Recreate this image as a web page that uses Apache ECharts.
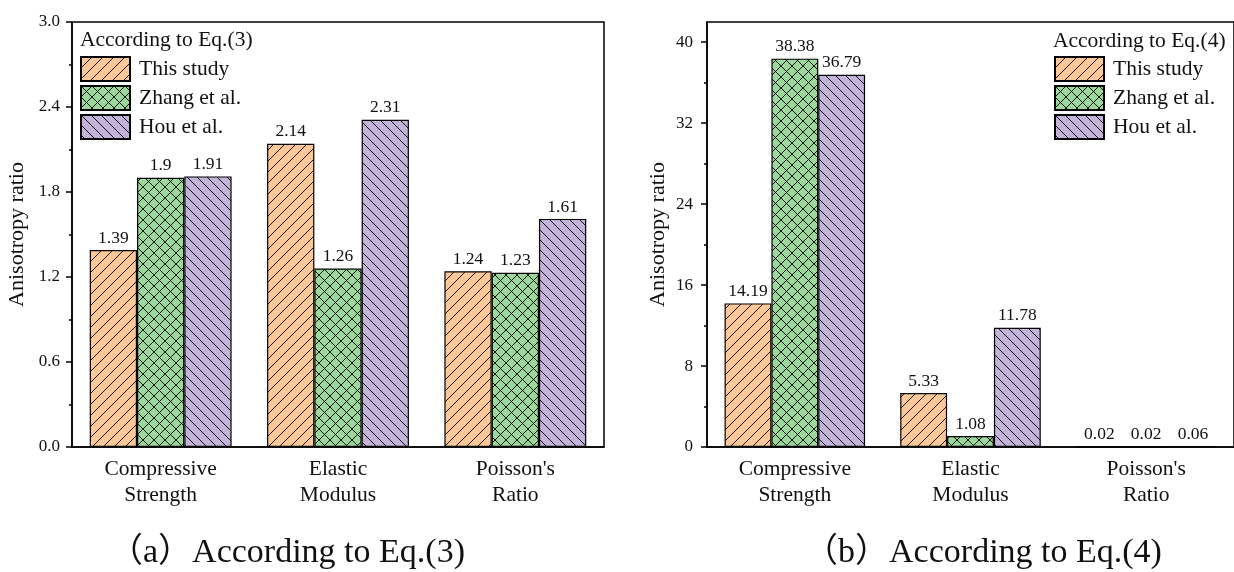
<!DOCTYPE html>
<html><head><meta charset="utf-8">
<script src="https://cdn.jsdelivr.net/npm/echarts@6/dist/echarts.min.js"></script>
<style>html,body{margin:0;padding:0;background:#fff}#c{width:1234px;height:572px}</style>
</head><body><div id="c"></div>
<script>
const categories = ['Compressive\nStrength', 'Elastic\nModulus', "Poisson's\nRatio"];
const seriesNames = ['This study', 'Zhang et al.', 'Hou et al.'];
const eq3ThisStudy = [1.39, 2.14, 1.24];
const eq3Zhang = [1.9, 1.26, 1.23];
const eq3Hou = [1.91, 2.31, 1.61];
const eq4ThisStudy = [14.19, 5.33, 0.02];
const eq4Zhang = [38.38, 1.08, 0.02];
const eq4Hou = [36.79, 11.78, 0.06];
const leftMajorTicks = [0, 0.6, 1.2, 1.8, 2.4, 3.0];
const leftMinorTicks = [0.3, 0.9, 1.5, 2.1, 2.7];
const rightMajorTicks = [0, 8, 16, 24, 32, 40];
const rightMinorTicks = [4, 12, 20, 28, 36];
const legendTitles = ['According to Eq.(3)', 'According to Eq.(4)'];
const subtitles = ['（a）According to Eq.(3)', '（b）According to Eq.(4)'];
const yName = 'Anisotropy ratio';

const FONT = "'Liberation Serif', 'Times New Roman', serif";
const FONT_CJK = "'Liberation Serif', 'Noto Sans CJK SC', serif";

function hatch(bg, type, s) {
  const c = document.createElement('canvas');
  c.width = s; c.height = s;
  const g = c.getContext('2d');
  g.fillStyle = bg; g.fillRect(0, 0, s, s);
  g.strokeStyle = '#000'; g.lineWidth = 0.9;
  g.beginPath();
  if (type === 'f' || type === 'x') {
    g.moveTo(-2, s + 2); g.lineTo(s + 2, -2);
  }
  if (type === 'b' || type === 'x') {
    g.moveTo(-2, -2); g.lineTo(s + 2, s + 2);
  }
  g.stroke();
  return { image: c, repeat: 'repeat' };
}
const fills = [
  hatch('#FDC897', 'f', 11),
  hatch('#9CD79C', 'x', 11),
  hatch('#C4B3D9', 'b', 10)
];

const chart = echarts.init(document.getElementById('c'), null, { renderer: 'canvas' });

function xAxes(gi) {
  return [
    {
      type: 'category', gridIndex: gi, data: categories, position: 'bottom',
      axisLine: { lineStyle: { color: '#000', width: 1.5 } },
      axisTick: { alignWithLabel: true, length: 6, lineStyle: { color: '#000', width: 1.5 } },
      axisLabel: { color: '#111', fontFamily: FONT, fontSize: 21.5, lineHeight: 26, margin: 9, interval: 0 }
    },
    {
      type: 'category', gridIndex: gi, data: categories, position: 'bottom',
      axisLine: { show: false },
      axisTick: { alignWithLabel: false, length: 3, lineStyle: { color: '#000', width: 1.5 } },
      axisLabel: { show: false }
    }
  ];
}
function yAxes(gi, max, major, minor, fmt, gap, margin) {
  return [
    {
      type: 'value', gridIndex: gi, min: 0, max: max,
      name: yName, nameLocation: 'middle', nameGap: gap,
      nameTextStyle: { fontFamily: FONT, fontSize: 22, color: '#111' },
      splitLine: { show: false },
      axisLine: { show: true, lineStyle: { color: '#000', width: 1.5 } },
      axisTick: { show: true, length: 6, customValues: major, lineStyle: { color: '#000', width: 1.5 } },
      axisLabel: { customValues: major, formatter: fmt, color: '#111', fontFamily: FONT, fontSize: 17, margin: margin }
    },
    {
      type: 'value', gridIndex: gi, min: 0, max: max, position: 'left',
      splitLine: { show: false },
      axisLine: { show: false },
      axisTick: { show: true, length: 3, customValues: minor, lineStyle: { color: '#000', width: 1.5 } },
      axisLabel: { show: false }
    }
  ];
}

function makeSeries(gi, dataArrs) {
  return dataArrs.map((d, i) => ({
    type: 'bar', name: seriesNames[i], xAxisIndex: gi * 2, yAxisIndex: gi * 2,
    data: d, barGap: '0%', barCategoryGap: '20%',
    itemStyle: { color: fills[i], borderColor: '#000', borderWidth: 1.2 },
    label: { show: true, position: 'top', distance: 3, color: '#111', fontFamily: FONT, fontSize: 17.5 },
    emphasis: { disabled: true }
  }));
}

function legend(left, top) {
  return {
    data: seriesNames.map(n => ({ name: n, icon: 'rect' })), orient: 'vertical', left: left, top: top,
    itemWidth: 49, itemHeight: 24, itemGap: 3, padding: 0,
    selectedMode: false,
    textStyle: { fontFamily: FONT, fontSize: 21.5, color: '#111', padding: [0, 0, 0, 4] }
  };
}

const option = {
  animation: false,
  backgroundColor: '#fff',
  grid: [
    { left: 72, right: 630, top: 22, bottom: 125, show: true, borderColor: '#000', borderWidth: 1.5, backgroundColor: 'transparent' },
    { left: 707, right: -2, top: 22, bottom: 125, show: true, borderColor: '#000', borderWidth: 1.5, backgroundColor: 'transparent' }
  ],
  xAxis: [...xAxes(0), ...xAxes(1)],
  yAxis: [
    ...yAxes(0, 3, leftMajorTicks, leftMinorTicks, v => v.toFixed(1), 44, 12),
    ...yAxes(1, 42, rightMajorTicks, rightMinorTicks, v => String(v), 38, 14)
  ],
  legend: [legend(80, 56), legend(1054, 56)],
  series: [
    ...makeSeries(0, [eq3ThisStudy, eq3Zhang, eq3Hou]),
    ...makeSeries(1, [eq4ThisStudy, eq4Zhang, eq4Hou])
  ],
  graphic: [
    { type: 'text', left: 80, top: 29, style: { text: legendTitles[0], font: `21.5px ${FONT}`, fill: '#111' } },
    { type: 'text', left: 1053, top: 30, style: { text: legendTitles[1], font: `21.5px ${FONT}`, fill: '#111' } },
    { type: 'text', x: 287, y: 553, style: { text: subtitles[0], font: `34px ${FONT_CJK}`, fill: '#111', align: 'center', verticalAlign: 'middle' } },
    { type: 'text', x: 983, y: 553, style: { text: subtitles[1], font: `34px ${FONT_CJK}`, fill: '#111', align: 'center', verticalAlign: 'middle' } }
  ]
};
chart.setOption(option);
</script>
</body></html>
